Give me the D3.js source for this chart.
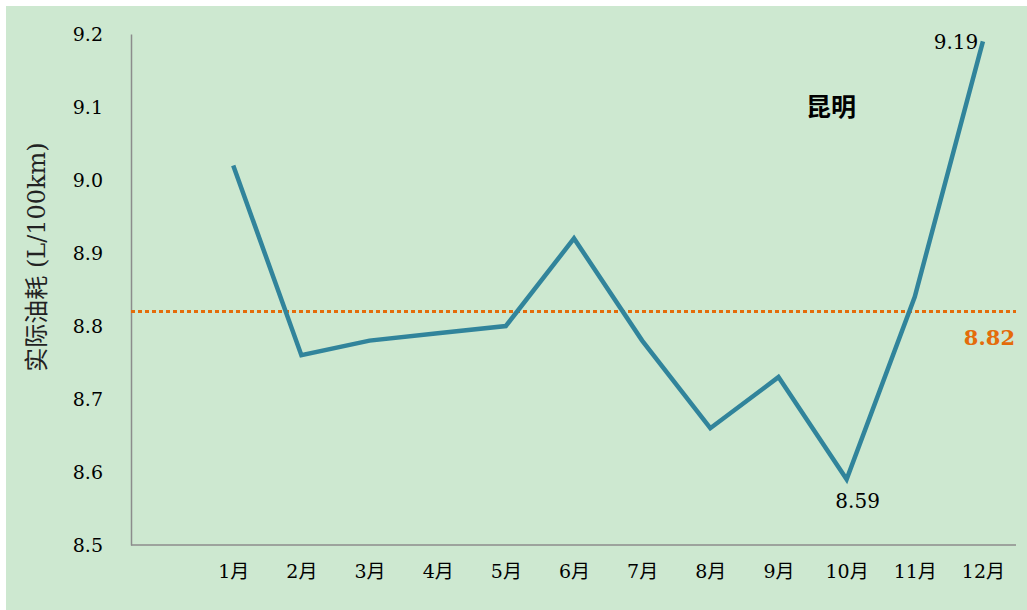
<!DOCTYPE html>
<html>
<head>
<meta charset="utf-8">
<script src="https://cdn.jsdelivr.net/npm/d3@7"></script>
<style>
body { margin: 0; background: #fff; }
text { font-family: "DejaVu Serif", "Noto Sans CJK SC", serif; }
</style>
</head>
<body>
<div id="main"></div>
<script>
var months = ['1月', '2月', '3月', '4月', '5月', '6月', '7月', '8月', '9月', '10月', '11月', '12月'];
var values = [9.02, 8.76, 8.78, 8.79, 8.80, 8.92, 8.78, 8.66, 8.73, 8.59, 8.84, 9.19];
var yTicks = [8.5, 8.6, 8.7, 8.8, 8.9, 9.0, 9.1, 9.2];
var average = 8.82;
var cityName = '昆明';
var yLabel = '实际油耗 (L/100km)';

var width = 1027, height = 610;
var lineColor = '#31849b', avgColor = '#e46c0a', bg = '#cde8d0';
var numFont = '"DejaVu Serif", "Noto Sans CJK SC", serif';

var svg = d3.select('#main').append('svg')
    .attr('width', width)
    .attr('height', height);

svg.append('rect')
    .attr('x', 6).attr('y', 6)
    .attr('width', width - 6).attr('height', height - 6)
    .attr('fill', bg);

// first slot is an empty category in the original chart
var x = d3.scalePoint()
    .domain([''].concat(months))
    .range([131, 1017])
    .padding(0.5);
var y = d3.scaleLinear()
    .domain([8.5, 9.2])
    .range([545, 34]);

var yAxis = svg.append('g')
    .attr('transform', 'translate(131,0)')
    .call(d3.axisLeft(y).tickValues(yTicks).tickFormat(d3.format('.1f')).tickSize(0).tickPadding(28));
yAxis.select('.domain').attr('stroke', '#8c8c8c').attr('stroke-width', 1.5);
yAxis.selectAll('text').attr('font-size', 19).attr('fill', '#000')
    .style('font-family', numFont);

var xAxis = svg.append('g')
    .attr('transform', 'translate(0,545)')
    .call(d3.axisBottom(x).tickSize(0).tickPadding(20));
xAxis.select('.domain').attr('stroke', '#8c8c8c').attr('stroke-width', 1.5)
    .attr('d', 'M131,0H1016');
xAxis.selectAll('text').attr('font-size', 19).attr('fill', '#000')
    .style('font-family', numFont);

svg.append('text')
    .attr('transform', 'translate(45,257) rotate(-90)')
    .attr('text-anchor', 'middle')
    .attr('font-size', 24)
    .attr('fill', '#222')
    .style('font-family', numFont)
    .text(yLabel);

// average line
svg.append('line')
    .attr('x1', 131).attr('x2', 1016)
    .attr('y1', y(average)).attr('y2', y(average))
    .attr('stroke', avgColor)
    .attr('stroke-width', 3)
    .attr('stroke-dasharray', '4,3');

svg.append('text')
    .attr('x', 1015).attr('y', y(average) + 34)
    .attr('text-anchor', 'end')
    .attr('font-size', 21)
    .attr('font-weight', 'bold')
    .attr('fill', avgColor)
    .style('font-family', numFont)
    .text(average.toFixed(2));

var line = d3.line()
    .x((d, i) => x(months[i]))
    .y(d => y(d));

svg.append('path')
    .datum(values)
    .attr('d', line)
    .attr('fill', 'none')
    .attr('stroke', lineColor)
    .attr('stroke-width', 4.5)
    .attr('stroke-linejoin', 'miter');

// point labels for max and min
var iMax = values.indexOf(d3.max(values));
var iMin = values.indexOf(d3.min(values));
svg.append('text')
    .attr('x', x(months[iMax]) - 27).attr('y', y(values[iMax]) + 8)
    .attr('text-anchor', 'middle')
    .attr('font-size', 20)
    .style('font-family', numFont)
    .text(values[iMax].toFixed(2));
svg.append('text')
    .attr('x', x(months[iMin]) + 11).attr('y', y(values[iMin]) + 29)
    .attr('text-anchor', 'middle')
    .attr('font-size', 20)
    .style('font-family', numFont)
    .text(values[iMin].toFixed(2));

svg.append('text')
    .attr('x', 831).attr('y', 116)
    .attr('text-anchor', 'middle')
    .attr('font-size', 25)
    .attr('font-weight', 'bold')
    .style('font-family', '"Noto Sans CJK SC", sans-serif')
    .text(cityName);
</script>
</body>
</html>
